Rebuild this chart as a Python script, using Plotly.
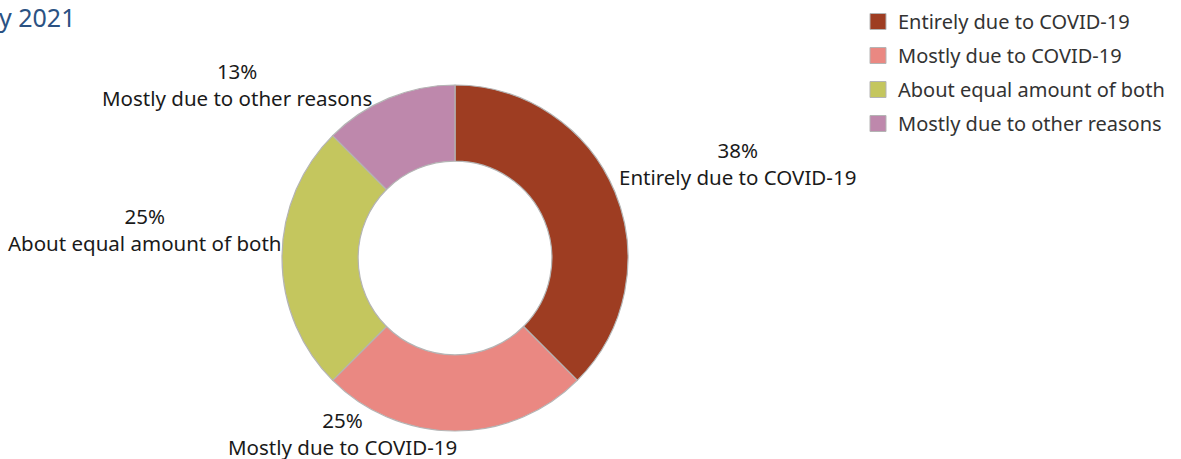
import plotly.graph_objects as go

categories = ["Entirely due to COVID-19", "Mostly due to COVID-19",
              "About equal amount of both", "Mostly due to other reasons"]
values = [37.5, 25, 25, 12.5]
pct_labels = ["38%", "25%", "25%", "13%"]
colors = ["#9e3d22", "#ea8882", "#c4c65e", "#be88ac"]

W, H = 1181, 459
cx, cy, r = 455, 258, 173
FONT = "Noto Sans"

# label centre positions (page pixels)
label_pos = [(737, 163), (342, 433), (144, 230), (237, 85)]

fig = go.Figure()
fig.add_trace(go.Pie(
    labels=categories,
    values=values,
    textposition="none",
    hole=0.56,
    sort=False,
    direction="clockwise",
    rotation=0,
    marker=dict(colors=colors, line=dict(color="#b4b4b4", width=1.2)),
    domain=dict(x=[(cx - r) / W, (cx + r) / W], y=[(H - cy - r) / H, (H - cy + r) / H]),
    hoverinfo="skip",
    showlegend=False,
))

# legend entries
for name, col in zip(categories, colors):
    fig.add_trace(go.Scatter(
        x=[None], y=[None], mode="markers", name=name, legendgroup=name,
        marker=dict(symbol="square", size=18, color=col, line=dict(color="#b4b4b4", width=1)),
        hoverinfo="skip",
    ))

annotations = []
for (px, py), pct, lab in zip(label_pos, pct_labels, categories):
    annotations.append(dict(
        text=f"{pct}<br>{lab}", xref="paper", yref="paper",
        x=px / W, y=1 - py / H, xanchor="center", yanchor="middle", align="center",
        showarrow=False, font=dict(family=FONT, size=20.5, color="#1a1a1a"),
    ))
annotations.append(dict(
    text="y 2021", xref="paper", yref="paper", x=77 / W, y=1 - 17 / H,
    xanchor="right", yanchor="middle", showarrow=False,
    font=dict(family=FONT, size=25, color="#2b5283"),
))

fig.update_layout(
    width=W, height=H,
    margin=dict(l=0, r=0, t=0, b=0, autoexpand=False),
    paper_bgcolor="white",
    plot_bgcolor="white",
    showlegend=True,
    xaxis=dict(visible=False),
    yaxis=dict(visible=False),
    legend=dict(
        x=858 / W, y=1 - 2 / H, xanchor="left", yanchor="top",
        font=dict(family=FONT, size=20, color="#333333"),
        itemwidth=30, tracegroupgap=5,
    ),
    annotations=annotations,
)

fig.write_html("out.html", config={"displayModeBar": False},
               post_script="document.body.style.margin='0';")
